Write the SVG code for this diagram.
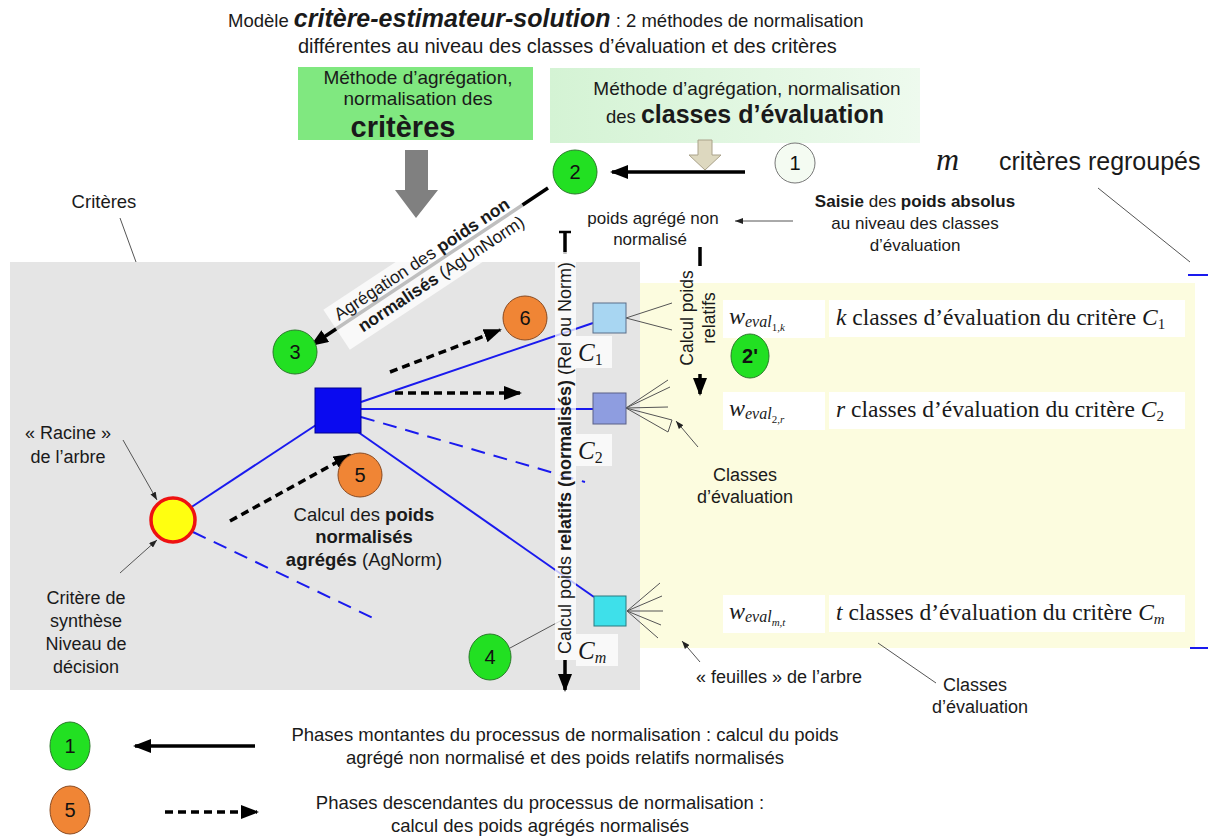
<svg xmlns="http://www.w3.org/2000/svg" width="1208" height="836" viewBox="0 0 1208 836">
<style>
.t{font-family:"Liberation Sans",Arial,sans-serif;fill:#1a1a1a}
.s{font-family:"Liberation Serif","Times New Roman",serif;fill:#1a1a1a}
.b{font-weight:bold}
.g{fill:#22e022;stroke:#2a7a2a;stroke-width:1}
.o{fill:#f08535;stroke:#8a4a20;stroke-width:1}
.num{font-family:"Liberation Sans",Arial,sans-serif;font-size:20px;fill:#111;text-anchor:middle}
.bl{stroke:#1a1aee;stroke-width:2;fill:none}
.bd{stroke:#1a1aee;stroke-width:2;fill:none;stroke-dasharray:14 9}
.thin{stroke:#555;stroke-width:1;fill:none}
.thick{stroke:#000;stroke-width:3.5;fill:none}
.dash{stroke:#000;stroke-width:3.5;fill:none;stroke-dasharray:8 5}
.wb{fill:#fff;opacity:0.75}
</style>
<defs>
<marker id="ah" markerUnits="userSpaceOnUse" markerWidth="18" markerHeight="14" refX="16" refY="7" orient="auto"><path d="M0,0 L18,7 L0,14 z" fill="#000"/></marker>
<marker id="as" markerUnits="userSpaceOnUse" markerWidth="8" markerHeight="6" refX="8" refY="3" orient="auto"><path d="M0,0 L8,3 L0,6 z" fill="#222"/></marker>
<linearGradient id="lg" x1="0" y1="0" x2="1" y2="0"><stop offset="0" stop-color="#d4f3d4"/><stop offset="1" stop-color="#eefaee"/></linearGradient>
</defs>

<g id="zones">
<rect x="10" y="262" width="630" height="428" fill="#e5e5e5"/>
<rect x="640" y="283" width="555" height="365" fill="#fcfcdf"/>
<line x1="1188" y1="275" x2="1208" y2="275" stroke="#1a1aee" stroke-width="2"/>
<line x1="1190" y1="648" x2="1208" y2="648" stroke="#1a1aee" stroke-width="2"/>
</g>

<g id="title">
<text class="t" x="228" y="27" font-size="18.5">Modèle <tspan class="b" font-style="italic" font-size="25">critère-estimateur-solution</tspan> : 2 méthodes de normalisation</text>
<text class="t" x="298" y="53" font-size="20">différentes au niveau des classes d’évaluation et des critères</text>
</g>

<g id="method-criteres">
<rect x="298" y="67" width="235" height="73" fill="#80e880"/>
<text class="t" x="418" y="84" font-size="19" text-anchor="middle">Méthode d’agrégation,</text>
<text class="t" x="418" y="105" font-size="19" text-anchor="middle">normalisation des</text>
<text class="t b" x="403" y="137" font-size="29" text-anchor="middle">critères</text>
<path d="M405,150 H428 V190 H438 L416,218 L395,190 H405 Z" fill="#808080"/>
</g>

<g id="method-classes">
<rect x="550" y="68" width="370" height="75" fill="url(#lg)"/>
<text class="t" x="747" y="95" font-size="19" text-anchor="middle">Méthode d’agrégation, normalisation</text>
<text class="t" x="745" y="123" font-size="18.5" text-anchor="middle">des <tspan class="b" font-size="25">classes d’évaluation</tspan></text>
<path d="M698,140 H712 V155 H721 L705,170 L689,155 H698 Z" fill="#ddd8bf" stroke="#aaa28a" stroke-width="1"/>
</g>

<g id="connectors">
<line class="bl" x1="190" y1="508" x2="316" y2="425"/>
<line class="bd" x1="193" y1="532" x2="373" y2="618"/>
<line class="bl" x1="361" y1="402" x2="593" y2="323"/>
<line class="bl" x1="361" y1="409" x2="593" y2="409"/>
<line class="bd" x1="361" y1="417" x2="585" y2="482"/>
<line class="bl" x1="358" y1="432" x2="594" y2="597"/>
<path class="thin" d="M626,318 L672,303 M626,318 L672,330"/>
<path class="thin" d="M626,408 L668,380 M626,408 L670,387 M626,408 L668,407 M626,408 L672,420 L668,432 Z"/>
<path class="thin" d="M627,611 L660,583 M627,611 L662,596 M627,611 L663,611 M627,611 L661,625 M627,611 L658,638"/>
<line class="thick" x1="745" y1="172" x2="612" y2="172" marker-end="url(#ah)"/>
<line class="thick" x1="548" y1="188" x2="312" y2="345" marker-end="url(#ah)"/>
<line class="thin" x1="793" y1="221" x2="735" y2="221" marker-end="url(#as)"/>
<line class="dash" x1="230" y1="521" x2="350" y2="455" marker-end="url(#ah)"/>
<line class="dash" x1="390" y1="372" x2="500" y2="330" marker-end="url(#ah)"/>
<line class="dash" x1="395" y1="393" x2="520" y2="393" marker-end="url(#ah)"/>
<line class="thick" x1="565" y1="232" x2="565" y2="254"/>
<line x1="559" y1="232" x2="571" y2="232" stroke="#000" stroke-width="2.5"/>
<line class="thick" x1="565" y1="660" x2="565" y2="690" marker-end="url(#ah)"/>
<line class="thick" x1="700" y1="247" x2="700" y2="266"/>
<line class="thick" x1="700" y1="374" x2="700" y2="394" marker-end="url(#ah)"/>
<line class="thin" x1="120" y1="218" x2="136" y2="262"/>
<line class="thin" x1="1098" y1="188" x2="1190" y2="262"/>
<line class="thin" x1="123" y1="440" x2="157" y2="500" marker-end="url(#as)"/>
<line class="thin" x1="120" y1="573" x2="157" y2="540" marker-end="url(#as)"/>
<line class="thin" x1="698" y1="447" x2="676" y2="421" marker-end="url(#as)"/>
<line class="thin" x1="700" y1="662" x2="682" y2="641" marker-end="url(#as)"/>
<line class="thin" x1="878" y1="643" x2="936" y2="683"/>
<line class="thin" x1="510" y1="648" x2="562" y2="620"/>
</g>

<g id="label-agunnorm" transform="translate(430,268) rotate(-33.5)">
<rect x="-112" y="-24" width="224" height="48" class="wb"/>
<text class="t" x="-2" y="-6" font-size="17.5" text-anchor="middle">Agrégation des <tspan class="b">poids non</tspan></text>
<text class="t" x="6" y="17" font-size="17.5" text-anchor="middle"><tspan class="b">normalisés</tspan> (AgUnNorm)</text>
</g>

<g id="label-relnorm">
<rect x="555" y="252" width="21" height="408" class="wb"/>
<text class="t" transform="translate(571,458) rotate(-90)" font-size="18" text-anchor="middle">Calcul poids <tspan class="b">relatifs (normalisés)</tspan> (Rel ou Norm)</text>
</g>

<g id="label-relatifs" transform="translate(700,318) rotate(-90)">
<text class="t" x="0" y="-7" font-size="17.5" text-anchor="middle">Calcul poids</text>
<text class="t" x="0" y="15" font-size="17.5" text-anchor="middle">relatifs</text>
</g>

<g id="texts">
<text class="t" x="104" y="208" font-size="18.5" text-anchor="middle">Critères</text>
<text class="t" x="68" y="439" font-size="18" text-anchor="middle">« Racine »</text>
<text class="t" x="68" y="463" font-size="18" text-anchor="middle">de l’arbre</text>
<text class="t" x="86" y="604" font-size="18" text-anchor="middle">Critère de</text>
<text class="t" x="86" y="627" font-size="18" text-anchor="middle">synthèse</text>
<text class="t" x="86" y="650" font-size="18" text-anchor="middle">Niveau de</text>
<text class="t" x="86" y="673" font-size="18" text-anchor="middle">décision</text>
<text class="t" x="364" y="521" font-size="18.5" text-anchor="middle">Calcul des <tspan class="b">poids</tspan></text>
<text class="t b" x="364" y="543" font-size="18.5" text-anchor="middle">normalisés</text>
<text class="t" x="364" y="566" font-size="18.5" text-anchor="middle"><tspan class="b">agrégés</tspan> (AgNorm)</text>
<text class="t" x="653" y="224" font-size="17" text-anchor="middle">poids agrégé non</text>
<text class="t" x="650" y="245" font-size="17" text-anchor="middle">normalisé</text>
<text class="t" x="915" y="207" font-size="17" text-anchor="middle"><tspan class="b">Saisie</tspan> des <tspan class="b">poids absolus</tspan></text>
<text class="t" x="915" y="229" font-size="17" text-anchor="middle">au niveau des classes</text>
<text class="t" x="915" y="251" font-size="17" text-anchor="middle">d’évaluation</text>
<text class="s" x="936" y="170" font-size="32" font-style="italic">m</text>
<text class="t" x="999" y="170" font-size="25">critères regroupés</text>
<text class="t" x="745" y="481" font-size="18" text-anchor="middle">Classes</text>
<text class="t" x="745" y="503" font-size="18" text-anchor="middle">d’évaluation</text>
<text class="t" x="779" y="683" font-size="18" text-anchor="middle">« feuilles » de l’arbre</text>
<text class="t" x="975" y="691" font-size="18" text-anchor="middle">Classes</text>
<text class="t" x="980" y="713" font-size="18" text-anchor="middle">d’évaluation</text>
</g>

<g id="clabels">
<rect x="576" y="336" width="36" height="32" class="wb"/>
<text class="s" x="578" y="361" font-size="25" font-style="italic">C<tspan font-size="16" dy="4" font-style="normal">1</tspan></text>
<rect x="576" y="434" width="36" height="32" class="wb"/>
<text class="s" x="578" y="459" font-size="25" font-style="italic">C<tspan font-size="16" dy="4" font-style="normal">2</tspan></text>
<rect x="576" y="634" width="42" height="32" class="wb"/>
<text class="s" x="578" y="659" font-size="25" font-style="italic">C<tspan font-size="16" dy="4">m</tspan></text>
</g>

<g id="row1">
<rect x="723" y="300" width="102" height="38" fill="#fff"/>
<rect x="829" y="300" width="356" height="37" fill="#fff"/>
<text class="s" x="729" y="324" font-size="24" font-style="italic">w<tspan font-size="16" dy="3">eval</tspan><tspan font-size="11" dy="4" font-style="normal">1,</tspan><tspan font-size="11">k</tspan></text>
<text class="s" x="836" y="325" font-size="23.5"><tspan font-style="italic">k</tspan> classes d’évaluation du critère <tspan font-style="italic">C</tspan><tspan font-size="15" dy="4">1</tspan></text>
</g>
<g id="row2">
<rect x="723" y="392" width="102" height="38" fill="#fff"/>
<rect x="829" y="392" width="356" height="37" fill="#fff"/>
<text class="s" x="729" y="416" font-size="24" font-style="italic">w<tspan font-size="16" dy="3">eval</tspan><tspan font-size="11" dy="4" font-style="normal">2,</tspan><tspan font-size="11">r</tspan></text>
<text class="s" x="836" y="417" font-size="23.5"><tspan font-style="italic">r</tspan> classes d’évaluation du critère <tspan font-style="italic">C</tspan><tspan font-size="15" dy="4">2</tspan></text>
</g>
<g id="row3">
<rect x="723" y="595" width="102" height="38" fill="#fff"/>
<rect x="829" y="595" width="356" height="37" fill="#fff"/>
<text class="s" x="729" y="619" font-size="24" font-style="italic">w<tspan font-size="16" dy="3">eval</tspan><tspan font-size="11" dy="4">m,t</tspan></text>
<text class="s" x="836" y="620" font-size="23.5"><tspan font-style="italic">t</tspan> classes d’évaluation du critère <tspan font-style="italic">C</tspan><tspan font-size="15" dy="4" font-style="italic">m</tspan></text>
</g>

<g id="root"><circle cx="173" cy="520" r="22" fill="#ffff10" stroke="#ee1111" stroke-width="3.5"/></g>
<g id="square"><rect x="315" y="388" width="46" height="45" fill="#0a0af0" stroke="#000090" stroke-width="1"/></g>
<g id="box-c1"><rect x="593" y="303" width="33" height="30" fill="#a8d6f2" stroke="#5a6e8a" stroke-width="1"/></g>
<g id="box-c2"><rect x="593" y="393" width="33" height="31" fill="#8e9de0" stroke="#5a6088" stroke-width="1"/></g>
<g id="box-cm"><rect x="594" y="596" width="32" height="30" fill="#3ee0ea" stroke="#2a7a80" stroke-width="1"/></g>

<g id="n1"><circle cx="795" cy="163" r="20" fill="#f4fbf2" stroke="#777" stroke-width="1"/><text class="num" x="795" y="170">1</text></g>
<g id="n2"><circle cx="575" cy="172" r="22" class="g"/><text class="num" x="575" y="179">2</text></g>
<g id="n2p"><ellipse cx="750" cy="356" rx="19" ry="22" class="g"/><text class="num b" x="750" y="363">2'</text></g>
<g id="n3"><circle cx="295" cy="352" r="22" class="g"/><text class="num" x="295" y="359">3</text></g>
<g id="n4"><ellipse cx="490" cy="657" rx="21" ry="23" class="g"/><text class="num" x="490" y="664">4</text></g>
<g id="n5"><circle cx="360" cy="475" r="22" class="o"/><text class="num" x="360" y="482">5</text></g>
<g id="n6"><circle cx="525" cy="318" r="22" class="o"/><text class="num" x="525" y="325">6</text></g>

<g id="legend">
<ellipse cx="70" cy="746" rx="20" ry="24" class="g"/><text class="num" x="70" y="753">1</text>
<line class="thick" x1="255" y1="746" x2="135" y2="746" marker-end="url(#ah)"/>
<text class="t" x="565" y="741" font-size="18.5" text-anchor="middle">Phases montantes du processus de normalisation : calcul du poids</text>
<text class="t" x="565" y="764" font-size="18.5" text-anchor="middle">agrégé non normalisé et des poids relatifs normalisés</text>
<ellipse cx="70" cy="810" rx="20" ry="24" class="o"/><text class="num" x="70" y="817">5</text>
<line class="dash" x1="165" y1="812" x2="257" y2="812" stroke-dasharray="6 4" marker-end="url(#ah)"/>
<text class="t" x="540" y="809" font-size="18.5" text-anchor="middle">Phases descendantes du processus de normalisation :</text>
<text class="t" x="540" y="832" font-size="18.5" text-anchor="middle">calcul des poids agrégés normalisés</text>
</g>
</svg>
